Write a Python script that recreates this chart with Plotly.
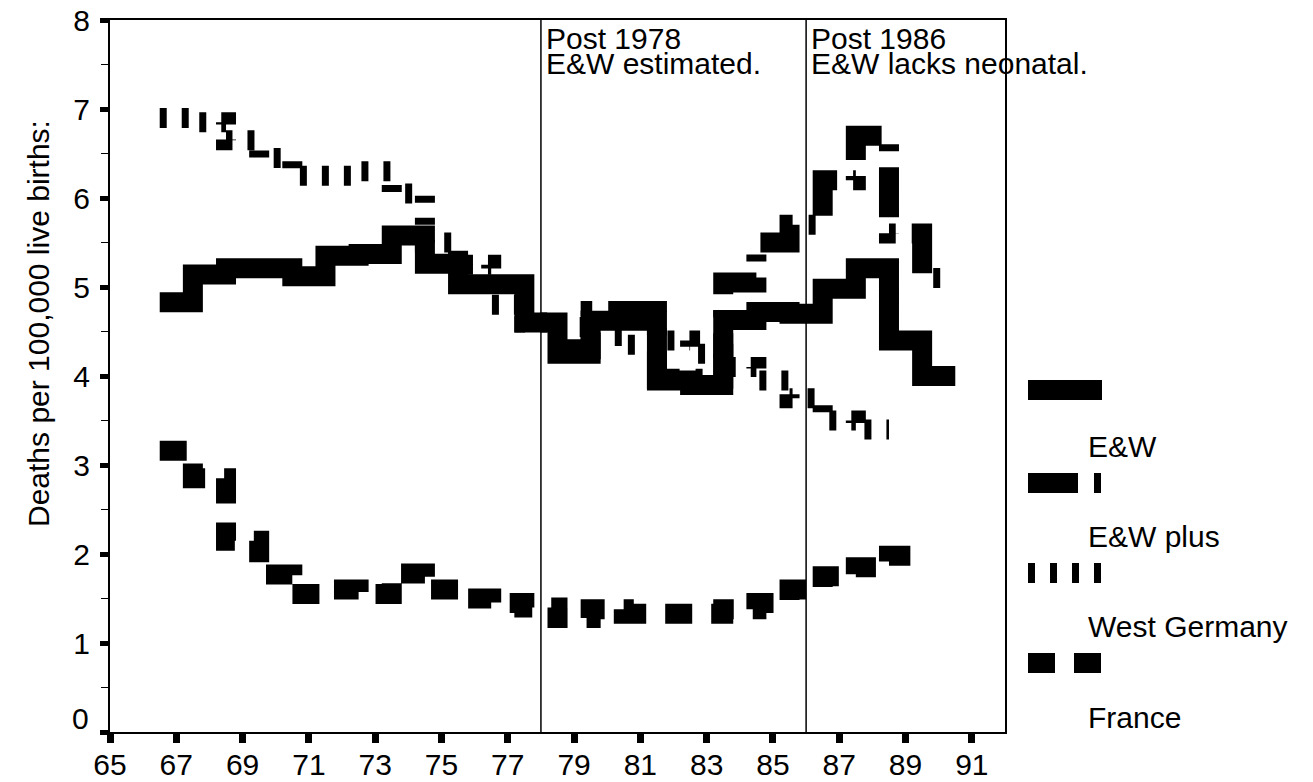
import plotly.graph_objects as go

# ---------------- data ----------------
ew_years = list(range(67, 91))
ew_vals = [4.83, 5.14, 5.21, 5.21, 5.12, 5.35, 5.37, 5.58, 5.26, 5.03, 5.03, 4.60,
           4.25, 4.62, 4.62, 3.95, 3.90, 4.63, 4.72, 4.70, 4.98, 5.21, 4.40, 4.00]

ewplus_years = list(range(79, 91))
ewplus_vals = [4.30, 4.73, 4.73, 3.97, 3.97, 5.05, 5.50, 5.70, 6.20, 6.70, 5.60, 5.10]

wg_years = list(range(67, 89))
wg_vals = [6.90, 6.85, 6.65, 6.45, 6.25, 6.25, 6.30, 6.05, 5.50, 5.25, 4.80, 4.60,
           4.55, 4.45, 4.35, 4.40, 4.25, 4.10, 3.95, 3.75, 3.50, 3.40]

fr_years = list(range(67, 90))
fr_vals = [3.16, 2.85, 2.15, 1.77, 1.55, 1.60, 1.55, 1.78, 1.60, 1.50, 1.45, 1.40,
           1.28, 1.38, 1.33, 1.33, 1.33, 1.38, 1.45, 1.60, 1.75, 1.85, 1.98]

series_names = ["E&W", "E&W plus", "West Germany", "France"]
series_dash = ["solid", "50px,16px,7px,16px", "7px,15px", "27px,19px"]

x_ticks = list(range(65, 92, 2))
x_ticktext = [str(v) for v in x_ticks]
y_ticks = list(range(0, 9))
y_minor = [v + 0.5 for v in range(0, 8)]

period_marks = [78, 86]
period_text = [("Post 1978", "E&W estimated."), ("Post 1986", "E&W lacks neonatal.")]

y_title = "Deaths per 100,000 live births:"

FONT = "Liberation Sans, Arial, sans-serif"
OFF = 8                      # page body margin
PAGE_W, PAGE_H = 1313, 782
W, H = PAGE_W - OFF, PAGE_H - OFF
# plot area in page pixels
PL, PR, PT, PB = 110, 1005, 20, 732
L, T = PL - OFF, PT - OFF
R, B = W - (PR - OFF), H - (PB - OFF)
PW, PH = PR - PL, PB - PT


def px_x(p):
    return (p - PL) / PW


def px_y(p):
    return (PB - p) / PH


def steps(years, vals):
    xs = [y - 0.5 for y in years] + [years[-1] + 0.5]
    ys = list(vals) + [vals[-1]]
    return xs, ys


fig = go.Figure()
all_series = [(ew_years, ew_vals), (ewplus_years, ewplus_vals),
              (wg_years, wg_vals), (fr_years, fr_vals)]
for (yrs, vals), name, dash in zip(all_series, series_names, series_dash):
    xs, ys = steps(yrs, vals)
    fig.add_trace(go.Scatter(x=xs, y=ys, mode="lines", name=name, line_shape="hv",
                             line=dict(color="black", width=20, dash=dash),
                             showlegend=False, hoverinfo="skip"))

shapes = []
for xm in period_marks:
    shapes.append(dict(type="line", xref="x", yref="paper", x0=xm, x1=xm, y0=0, y1=1,
                       line=dict(color="black", width=1.5)))

annotations = []
for xm, (l1, l2) in zip(period_marks, period_text):
    annotations.append(dict(x=xm, y=px_y(38), xref="x", yref="paper", text=l1,
                            showarrow=False, xanchor="left", yanchor="middle", xshift=3,
                            font=dict(size=30, color="black", family=FONT)))
    annotations.append(dict(x=xm, y=px_y(63), xref="x", yref="paper", text=l2,
                            showarrow=False, xanchor="left", yanchor="middle", xshift=3,
                            font=dict(size=30, color="black", family=FONT)))

# manual legend: sample above, label below
leg_sample_y = [390, 483, 573, 663]
leg_label_y = [446, 536, 626, 717]
for name, dash, sy, ly in zip(series_names, series_dash, leg_sample_y, leg_label_y):
    shapes.append(dict(type="line", xref="paper", yref="paper",
                       x0=px_x(1028), x1=px_x(1102), y0=px_y(sy), y1=px_y(sy),
                       line=dict(color="black", width=20, dash=dash)))
    annotations.append(dict(x=px_x(1086), y=px_y(ly), xref="paper", yref="paper", text=name,
                            showarrow=False, xanchor="left", yanchor="middle",
                            font=dict(size=30, color="black", family=FONT)))

# y-axis title
annotations.append(dict(x=px_x(38), y=px_y(324), xref="paper", yref="paper", text=y_title,
                        textangle=-90, showarrow=False, xanchor="center", yanchor="middle",
                        font=dict(size=30, color="black", family=FONT)))
# the zero label sits a little higher than its tick
annotations.append(dict(x=px_x(91), y=0, xref="paper", yref="y", text="0",
                        showarrow=False, xanchor="right", yanchor="middle", yshift=14,
                        font=dict(size=30, color="black", family=FONT)))

fig.update_layout(
    width=W, height=H, autosize=False,
    margin=dict(l=L, r=R, t=T, b=B, pad=0),
    paper_bgcolor="white", plot_bgcolor="white",
    font=dict(family=FONT, size=30, color="black"),
    shapes=shapes, annotations=annotations, showlegend=False,
    xaxis=dict(range=[65, 92], tickmode="array", tickvals=x_ticks, ticktext=x_ticktext,
               ticks="outside", ticklen=9, tickwidth=7, tickcolor="black",
               ticklabelstandoff=-4, ticklabeloverflow="allow",
               showline=True, linewidth=2, linecolor="black", mirror=True, automargin=False,
               showgrid=False, zeroline=False, tickfont=dict(size=30, family=FONT)),
    yaxis=dict(range=[0, 8], tickmode="array", tickvals=y_ticks,
               ticktext=[""] + [str(v) for v in y_ticks[1:]],
               ticks="outside", ticklen=8, tickwidth=5, tickcolor="black",
               ticklabelstandoff=4, ticklabeloverflow="allow",
               minor=dict(tickmode="array", tickvals=y_minor, ticks="outside",
                          ticklen=7, tickwidth=1, tickcolor="black"),
               showline=True, linewidth=2, linecolor="black", mirror=True, automargin=False,
               showgrid=False, zeroline=False, tickfont=dict(size=30, family=FONT)),
)

fig.write_html("out.html")
